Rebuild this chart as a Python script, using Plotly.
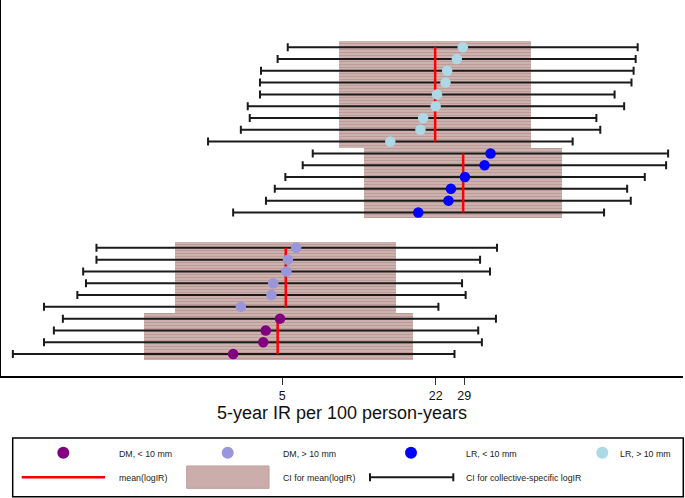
import plotly.graph_objects as go

# ---------------- data (rows listed top -> bottom) ----------------
dm_small_ir = [4.89, 4.26, 4.16, 3.11]
dm_small_lo = [0.60, 0.55, 0.50, 0.37]
dm_small_hi = [39.4, 33.2, 34.4, 26.4]
dm_small_mean = 4.78
dm_small_ci = [1.31, 17.6]

dm_large_ir = [5.72, 5.28, 5.20, 4.58, 4.50, 3.35]
dm_large_lo = [0.83, 0.83, 0.73, 0.75, 0.69, 0.50]
dm_large_hi = [39.8, 33.8, 37.2, 28.4, 29.4, 22.6]
dm_large_mean = 5.17
dm_large_ci = [1.78, 15.0]

lr_small_ir = [37.4, 35.3, 29.2, 25.5, 24.9, 18.6]
lr_small_lo = [6.71, 6.09, 5.15, 4.65, 4.27, 3.11]
lr_small_hi = [208, 204, 166, 140, 145, 112]
lr_small_mean = 28.7
lr_small_ci = [11.0, 74.4]

lr_large_ir = [28.6, 27.0, 24.6, 24.2, 22.3, 22.0, 19.5, 19.0, 14.2]
lr_large_lo = [5.27, 4.78, 4.07, 4.03, 4.03, 3.58, 3.65, 3.35, 2.44]
lr_large_hi = [155, 152, 149, 146, 124, 136, 104, 108, 82.7]
lr_large_mean = 21.9
lr_large_ci = [8.65, 55.3]

tick_vals = [5, 22, 29]
tick_text = ["5", "22", "29"]

group_names = ["DM, < 10 mm", "DM, > 10 mm", "LR, < 10 mm", "LR, > 10 mm"]
group_colors = ["#800080", "#9a96dc", "#0000ff", "#add8e6"]

groups = [
    (dm_small_ir, dm_small_lo, dm_small_hi, dm_small_mean, dm_small_ci),
    (dm_large_ir, dm_large_lo, dm_large_hi, dm_large_mean, dm_large_ci),
    (lr_small_ir, lr_small_lo, lr_small_hi, lr_small_mean, lr_small_ci),
    (lr_large_ir, lr_large_lo, lr_large_hi, lr_large_mean, lr_large_ci),
]
gaps_before = [0, 0, 2, 0]

BOX_BG = "#cdb1ae"
BOX_FG = "#bc9c99"
BAR_COLOR = "#1a1a1a"
FONT = "Liberation Sans, Arial, sans-serif"
LEG_FS = 8.8

# y positions (bottom group first, rows drawn top->bottom within group)
ypos = []
cur = 1
for (ir, lo, hi, m, ci), gap in zip(groups, gaps_before):
    cur += gap
    n = len(ir)
    ys = [cur + n - 1 - i for i in range(n)]
    ypos.append(ys)
    cur += n

fig = go.Figure()

# CI boxes for mean
for (ir, lo, hi, m, ci), ys in zip(groups, ypos):
    fig.add_trace(go.Bar(
        orientation="h",
        y=[sum(ys) / len(ys)],
        base=[ci[0]],
        x=[ci[1] - ci[0]],
        width=[len(ys)],
        marker=dict(color=BOX_BG, line=dict(width=0),
                    pattern=dict(shape="-", fgcolor=BOX_FG, bgcolor=BOX_BG,
                                 size=3, solidity=0.35, fillmode="replace")),
        showlegend=False, hoverinfo="skip",
    ))

# collective-specific CIs (error bars only)
for (ir, lo, hi, m, ci), ys in zip(groups, ypos):
    fig.add_trace(go.Scatter(
        x=ir, y=ys, mode="markers",
        marker=dict(size=2, opacity=0),
        error_x=dict(type="data", symmetric=False,
                     array=[h - v for h, v in zip(hi, ir)],
                     arrayminus=[v - l for v, l in zip(ir, lo)],
                     color=BAR_COLOR, thickness=2, width=4),
        showlegend=False, hoverinfo="skip",
    ))

# mean lines
for (ir, lo, hi, m, ci), ys in zip(groups, ypos):
    fig.add_trace(go.Scatter(
        x=[m, m], y=[max(ys), min(ys)], mode="lines",
        line=dict(color="red", width=2.5),
        showlegend=False, hoverinfo="skip",
    ))

# points
for (ir, lo, hi, m, ci), ys, col, name in zip(groups, ypos, group_colors, group_names):
    fig.add_trace(go.Scatter(
        x=ir, y=ys, mode="markers", name=name,
        marker=dict(color=col, size=10.5, line=dict(width=0)),
        showlegend=False,
    ))

# ---------------- layout ----------------
L, T, W, H = 1, 0, 682, 376
def px(xp):
    return (xp - L) / W
def py(yp):
    return (T + H - yp) / H

fig.update_layout(
    width=685, height=498,
    margin=dict(l=L, r=685 - L - W, t=T, b=498 - T - H, pad=0),
    paper_bgcolor="white", plot_bgcolor="white",
    barmode="overlay", bargap=0,
    font=dict(family=FONT, color="#111"),
    xaxis=dict(type="log", range=[-0.4815, 2.3805],
               tickvals=tick_vals, ticktext=tick_text,
               ticks="outside", ticklen=7, tickwidth=1, tickcolor="#333",
               tickfont=dict(size=12.5, family=FONT, color="#111"),
               showline=True, linecolor="black", linewidth=2,
               showgrid=False, zeroline=False,
               title=dict(text="5-year IR per 100 person-years",
                          font=dict(size=18, family=FONT, color="#111"),
                          standoff=1)),
    yaxis=dict(range=[-0.86, 31.0], showticklabels=False, ticks="",
               showline=True, linecolor="black", linewidth=2,
               showgrid=False, zeroline=False),
)

# ---------------- legend (manual) ----------------
shapes = []
annos = []
def leg_text(x, y, txt):
    annos.append(dict(xref="paper", yref="paper", x=px(x), y=py(y),
                      xanchor="left", yanchor="middle", showarrow=False,
                      borderpad=0, text=txt,
                      font=dict(size=LEG_FS, family=FONT, color="#222")))

shapes.append(dict(type="rect", xref="paper", yref="paper",
                   x0=px(12.7), x1=px(683.3), y0=py(496.7), y1=py(438),
                   line=dict(color="black", width=1.5), fillcolor="rgba(0,0,0,0)"))
row1 = 452.7
row2 = 477.3
text_row1 = 453.5
text_row2 = 478.3
circle_x = [63.3, 227.7, 411.0, 602.3]
text_x = [117.5, 282.0, 465.3, 618.6]
for cx, tx, col, name in zip(circle_x, text_x, group_colors, group_names):
    shapes.append(dict(type="circle", xref="paper", yref="paper",
                       xsizemode="pixel", ysizemode="pixel",
                       xanchor=px(cx), yanchor=py(row1),
                       x0=-6, x1=6, y0=-6, y1=6,
                       fillcolor=col, line=dict(width=0)))
    leg_text(tx, text_row1, name)
# red line
shapes.append(dict(type="line", xref="paper", yref="paper",
                   x0=px(21.7), x1=px(105), y0=py(row2), y1=py(row2),
                   line=dict(color="red", width=2.5)))
leg_text(117.5, text_row2, "mean(logIR)")
# box
shapes.append(dict(type="rect", xref="paper", yref="paper",
                   x0=px(186.7), x1=px(269), y0=py(488.3), y1=py(466),
                   fillcolor="#cbaeab", line=dict(color="#c09a98", width=1)))
leg_text(282.0, text_row2, "CI for mean(logIR)")
# whisker
shapes.append(dict(type="line", xref="paper", yref="paper",
                   x0=px(370), x1=px(453.3), y0=py(row2), y1=py(row2),
                   line=dict(color=BAR_COLOR, width=2)))
for wx in (370, 453.3):
    shapes.append(dict(type="line", xref="paper", yref="paper",
                       x0=px(wx), x1=px(wx), y0=py(row2 - 4), y1=py(row2 + 4),
                       line=dict(color=BAR_COLOR, width=2)))
leg_text(465.3, text_row2, "CI for collective-specific logIR")

fig.update_layout(shapes=shapes, annotations=annos)

fig.write_html("out.html", config={"displayModeBar": False},
               post_script="document.body.style.margin='0';document.body.style.overflow='hidden';")
